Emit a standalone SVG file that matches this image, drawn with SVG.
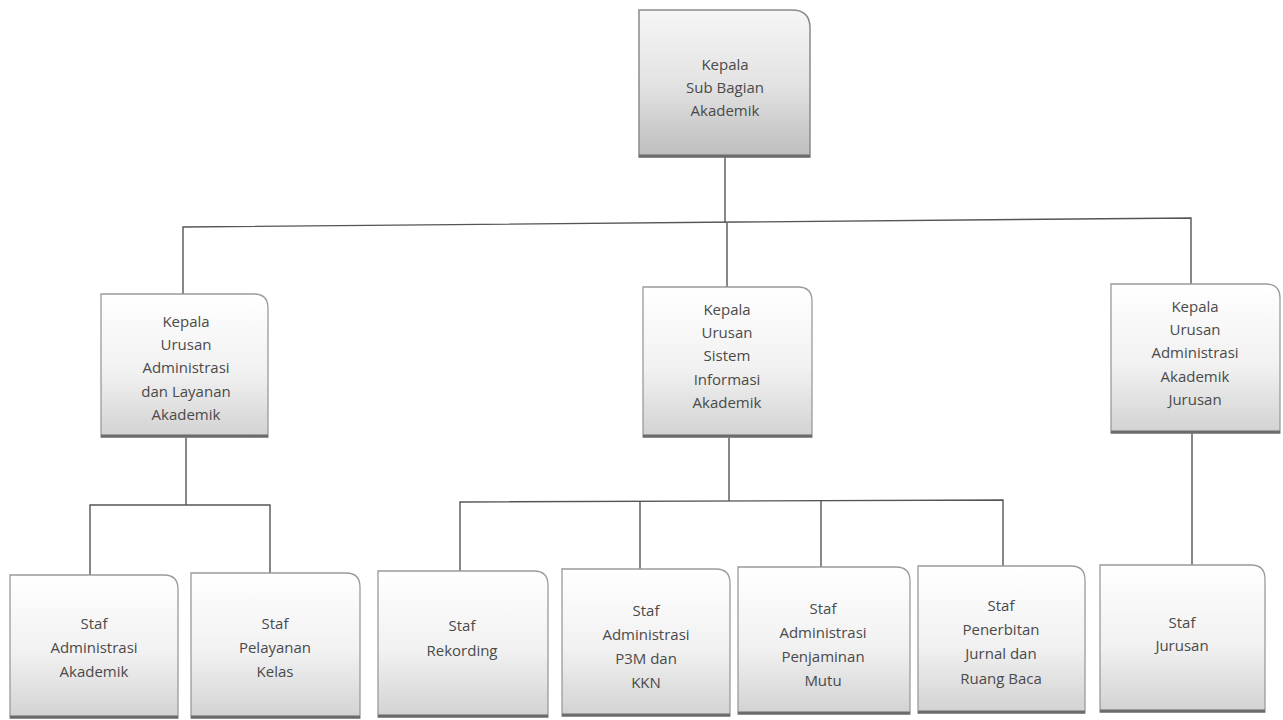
<svg xmlns="http://www.w3.org/2000/svg" width="1283" height="720" viewBox="0 0 1283 720">
<defs>
<linearGradient id="g" x1="0" y1="0" x2="0" y2="1">
<stop offset="0" stop-color="#ffffff"/>
<stop offset="0.55" stop-color="#f1f1f1"/>
<stop offset="1" stop-color="#d2d2d2"/>
</linearGradient>
<linearGradient id="gt" x1="0" y1="0" x2="0" y2="1">
<stop offset="0" stop-color="#f6f6f6"/>
<stop offset="0.5" stop-color="#e3e3e3"/>
<stop offset="1" stop-color="#bdbdbd"/>
</linearGradient>
</defs>
<style>
.box{fill:url(#g);stroke:#9a9a9a;stroke-width:1.3}
.top{fill:url(#gt);stroke:#8a8a8a;stroke-width:1.5}
.base{stroke:#6b6b6b;stroke-width:3}
.ln{fill:none;stroke:#555;stroke-width:1.4}
text{font-family:"Open Sans","Noto Sans","Liberation Sans",sans-serif;font-size:15px;fill:#4a4a4a;text-anchor:middle}
</style>
<rect width="1283" height="720" fill="#ffffff"/>
<g id="connectors">
<path class="ln" d="M725,157 V223"/>
<path class="ln" d="M183,294 V227 L1191,218 V284"/>
<path class="ln" d="M727,223 V287"/>
<path class="ln" d="M186,437 V505"/>
<path class="ln" d="M90,575 V505 H270 V573"/>
<path class="ln" d="M729,437 V501"/>
<path class="ln" d="M460,571 V502 L1003,500 V566"/>
<path class="ln" d="M640,569 V502"/>
<path class="ln" d="M821,567 V501"/>
<path class="ln" d="M1192,433 V565"/>
</g>
<g id="n0">
<path class="top" d="M639,10 H792 Q810,10 810,28 V157 H639 Z"/>
<line class="base" x1="639" y1="156" x2="810" y2="156"/>
<text x="725" y="70">Kepala</text><text x="725" y="93">Sub Bagian</text><text x="725" y="116">Akademik</text>
</g>
<g id="n1">
<path class="box" d="M101,294 H254 Q268,294 268,308 V437 H101 Z"/>
<line class="base" x1="101" y1="436" x2="268" y2="436"/>
<text x="186" y="327">Kepala</text><text x="186" y="350">Urusan</text><text x="186" y="373">Administrasi</text><text x="186" y="397">dan Layanan</text><text x="186" y="420">Akademik</text>
</g>
<g id="n2">
<path class="box" d="M643,287 H798 Q812,287 812,301 V437 H643 Z"/>
<line class="base" x1="643" y1="436" x2="812" y2="436"/>
<text x="727" y="315">Kepala</text><text x="727" y="338">Urusan</text><text x="727" y="361">Sistem</text><text x="727" y="385">Informasi</text><text x="727" y="408">Akademik</text>
</g>
<g id="n3">
<path class="box" d="M1111,284 H1266 Q1280,284 1280,298 V433 H1111 Z"/>
<line class="base" x1="1111" y1="432" x2="1280" y2="432"/>
<text x="1195" y="312">Kepala</text><text x="1195" y="335">Urusan</text><text x="1195" y="358">Administrasi</text><text x="1195" y="382">Akademik</text><text x="1195" y="405">Jurusan</text>
</g>
<g id="n4">
<path class="box" d="M10,575 H164 Q178,575 178,589 V718 H10 Z"/>
<line class="base" x1="10" y1="717" x2="178" y2="717"/>
<text x="94" y="629">Staf</text><text x="94" y="653">Administrasi</text><text x="94" y="677">Akademik</text>
</g>
<g id="n5">
<path class="box" d="M191,573 H346 Q360,573 360,587 V718 H191 Z"/>
<line class="base" x1="191" y1="717" x2="360" y2="717"/>
<text x="275" y="629">Staf</text><text x="275" y="653">Pelayanan</text><text x="275" y="677">Kelas</text>
</g>
<g id="n6">
<path class="box" d="M378,571 H534 Q548,571 548,585 V717 H378 Z"/>
<line class="base" x1="378" y1="716" x2="548" y2="716"/>
<text x="462" y="631">Staf</text><text x="462" y="656">Rekording</text>
</g>
<g id="n7">
<path class="box" d="M562,569 H716 Q730,569 730,583 V716 H562 Z"/>
<line class="base" x1="562" y1="715" x2="730" y2="715"/>
<text x="646" y="616">Staf</text><text x="646" y="640">Administrasi</text><text x="646" y="664">P3M dan</text><text x="646" y="688">KKN</text>
</g>
<g id="n8">
<path class="box" d="M738,567 H896 Q910,567 910,581 V714 H738 Z"/>
<line class="base" x1="738" y1="713" x2="910" y2="713"/>
<text x="823" y="614">Staf</text><text x="823" y="638">Administrasi</text><text x="823" y="662">Penjaminan</text><text x="823" y="686">Mutu</text>
</g>
<g id="n9">
<path class="box" d="M918,566 H1071 Q1085,566 1085,580 V713 H918 Z"/>
<line class="base" x1="918" y1="712" x2="1085" y2="712"/>
<text x="1001" y="611">Staf</text><text x="1001" y="635">Penerbitan</text><text x="1001" y="659">Jurnal dan</text><text x="1001" y="684">Ruang Baca</text>
</g>
<g id="n10">
<path class="box" d="M1100,565 H1251 Q1265,565 1265,579 V712 H1100 Z"/>
<line class="base" x1="1100" y1="711" x2="1265" y2="711"/>
<text x="1182" y="628">Staf</text><text x="1182" y="651">Jurusan</text>
</g>
</svg>
